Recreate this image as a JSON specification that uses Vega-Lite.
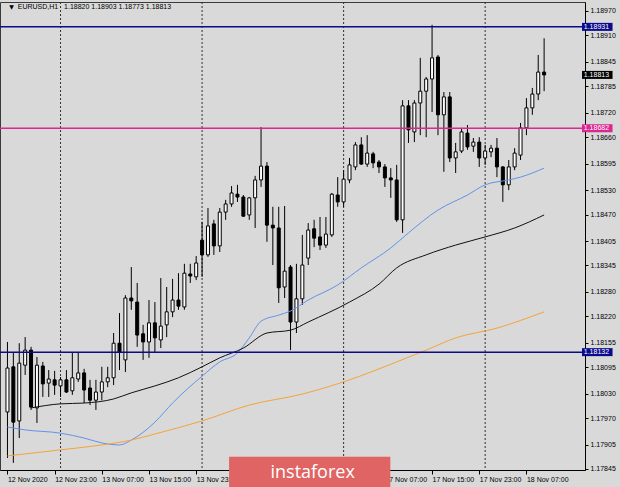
{
  "$schema": "https://vega.github.io/schema/vega-lite/v6.json",
  "width": 585,
  "height": 468,
  "autosize": "none",
  "padding": {"left": 0, "top": 2, "right": 35, "bottom": 17},
  "background": "#d9d9d9",
  "config": {
    "view": {"fill": "#d9d9d9", "stroke": "#3a3a3a", "strokeWidth": 1},
    "font": "Liberation Sans",
    "axis": {"labelFont": "Liberation Sans", "labelFontSize": 7, "labelColor": "#000000", "tickColor": "#000000", "domainColor": "#000000", "grid": false, "title": null, "labelOverlap": false, "labelFlush": false}
  },
  "datasets": {
    "candles": [
      {"k":0,"o":1.17985,"h":1.18157,"l":1.17872,"c":1.18093},
      {"k":1,"o":1.18096,"h":1.18132,"l":1.17860,"c":1.17960},
      {"k":2,"o":1.17963,"h":1.18154,"l":1.17921,"c":1.18105},
      {"k":3,"o":1.18100,"h":1.18169,"l":1.18076,"c":1.18137},
      {"k":4,"o":1.18137,"h":1.18145,"l":1.17990,"c":1.17997},
      {"k":5,"o":1.17995,"h":1.18120,"l":1.17958,"c":1.18100},
      {"k":6,"o":1.18098,"h":1.18108,"l":1.18022,"c":1.18054},
      {"k":7,"o":1.18056,"h":1.18088,"l":1.18022,"c":1.18066},
      {"k":8,"o":1.18064,"h":1.18086,"l":1.18027,"c":1.18051},
      {"k":9,"o":1.18049,"h":1.18071,"l":1.18022,"c":1.18064},
      {"k":10,"o":1.18064,"h":1.18088,"l":1.18032,"c":1.18034},
      {"k":11,"o":1.18037,"h":1.18132,"l":1.18027,"c":1.18069},
      {"k":12,"o":1.18066,"h":1.18132,"l":1.18059,"c":1.18081},
      {"k":13,"o":1.18081,"h":1.18091,"l":1.18007,"c":1.18039},
      {"k":14,"o":1.18044,"h":1.18064,"l":1.18002,"c":1.18014},
      {"k":15,"o":1.18014,"h":1.18064,"l":1.17990,"c":1.18034},
      {"k":16,"o":1.18034,"h":1.18096,"l":1.18014,"c":1.18059},
      {"k":17,"o":1.18059,"h":1.18096,"l":1.18046,"c":1.18069},
      {"k":18,"o":1.18069,"h":1.18179,"l":1.18051,"c":1.18154},
      {"k":19,"o":1.18154,"h":1.18228,"l":1.18088,"c":1.18132},
      {"k":20,"o":1.18113,"h":1.18272,"l":1.18083,"c":1.18265},
      {"k":21,"o":1.18265,"h":1.18341,"l":1.18236,"c":1.18258},
      {"k":22,"o":1.18255,"h":1.18302,"l":1.18145,"c":1.18174},
      {"k":23,"o":1.18177,"h":1.18199,"l":1.18113,"c":1.18157},
      {"k":24,"o":1.18157,"h":1.18260,"l":1.18118,"c":1.18204},
      {"k":25,"o":1.18204,"h":1.18255,"l":1.18132,"c":1.18167},
      {"k":26,"o":1.18162,"h":1.18314,"l":1.18142,"c":1.18196},
      {"k":27,"o":1.18199,"h":1.18292,"l":1.18169,"c":1.18231},
      {"k":28,"o":1.18231,"h":1.18312,"l":1.18218,"c":1.18260},
      {"k":29,"o":1.18260,"h":1.18326,"l":1.18236,"c":1.18245},
      {"k":30,"o":1.18243,"h":1.18349,"l":1.18236,"c":1.18326},
      {"k":31,"o":1.18324,"h":1.18349,"l":1.18302,"c":1.18319},
      {"k":32,"o":1.18317,"h":1.18368,"l":1.18309,"c":1.18351},
      {"k":33,"o":1.18407,"h":1.18452,"l":1.18317,"c":1.18371},
      {"k":34,"o":1.18371,"h":1.18486,"l":1.18366,"c":1.18442},
      {"k":35,"o":1.18447,"h":1.18457,"l":1.18371,"c":1.18393},
      {"k":36,"o":1.18393,"h":1.18486,"l":1.18378,"c":1.18476},
      {"k":37,"o":1.18476,"h":1.18506,"l":1.18457,"c":1.18496},
      {"k":38,"o":1.18496,"h":1.18540,"l":1.18489,"c":1.18523},
      {"k":39,"o":1.18520,"h":1.18543,"l":1.18501,"c":1.18513},
      {"k":40,"o":1.18513,"h":1.18518,"l":1.18464,"c":1.18466},
      {"k":41,"o":1.18469,"h":1.18513,"l":1.18457,"c":1.18511},
      {"k":42,"o":1.18511,"h":1.18565,"l":1.18437,"c":1.18555},
      {"k":43,"o":1.18555,"h":1.18685,"l":1.18538,"c":1.18589},
      {"k":44,"o":1.18589,"h":1.18599,"l":1.18403,"c":1.18444},
      {"k":45,"o":1.18444,"h":1.18489,"l":1.18346,"c":1.18437},
      {"k":46,"o":1.18437,"h":1.18489,"l":1.18253,"c":1.18290},
      {"k":47,"o":1.18292,"h":1.18491,"l":1.18265,"c":1.18331},
      {"k":48,"o":1.18341,"h":1.18346,"l":1.18137,"c":1.18206},
      {"k":49,"o":1.18206,"h":1.18349,"l":1.18179,"c":1.18263},
      {"k":50,"o":1.18263,"h":1.18420,"l":1.18248,"c":1.18346},
      {"k":51,"o":1.18363,"h":1.18449,"l":1.18346,"c":1.18432},
      {"k":52,"o":1.18435,"h":1.18457,"l":1.18390,"c":1.18412},
      {"k":53,"o":1.18415,"h":1.18464,"l":1.18383,"c":1.18395},
      {"k":54,"o":1.18395,"h":1.18464,"l":1.18388,"c":1.18422},
      {"k":55,"o":1.18420,"h":1.18523,"l":1.18415,"c":1.18520},
      {"k":56,"o":1.18518,"h":1.18562,"l":1.18489,"c":1.18501},
      {"k":57,"o":1.18501,"h":1.18579,"l":1.18489,"c":1.18557},
      {"k":58,"o":1.18555,"h":1.18609,"l":1.18547,"c":1.18592},
      {"k":59,"o":1.18587,"h":1.18648,"l":1.18579,"c":1.18641},
      {"k":60,"o":1.18641,"h":1.18660,"l":1.18592,"c":1.18594},
      {"k":61,"o":1.18594,"h":1.18665,"l":1.18587,"c":1.18621},
      {"k":62,"o":1.18619,"h":1.18624,"l":1.18584,"c":1.18597},
      {"k":63,"o":1.18599,"h":1.18604,"l":1.18572,"c":1.18587},
      {"k":64,"o":1.18587,"h":1.18594,"l":1.18538,"c":1.18560},
      {"k":65,"o":1.18560,"h":1.18584,"l":1.18511,"c":1.18555},
      {"k":66,"o":1.18555,"h":1.18592,"l":1.18452,"c":1.18457},
      {"k":67,"o":1.18457,"h":1.18751,"l":1.18425,"c":1.18737},
      {"k":68,"o":1.18737,"h":1.18751,"l":1.18646,"c":1.18678},
      {"k":69,"o":1.18673,"h":1.18751,"l":1.18648,"c":1.18744},
      {"k":70,"o":1.18744,"h":1.18855,"l":1.18665,"c":1.18773},
      {"k":71,"o":1.18773,"h":1.18808,"l":1.18660,"c":1.18803},
      {"k":72,"o":1.18803,"h":1.18936,"l":1.18722,"c":1.18855},
      {"k":73,"o":1.18857,"h":1.18862,"l":1.18665,"c":1.18715},
      {"k":74,"o":1.18715,"h":1.18771,"l":1.18575,"c":1.18759},
      {"k":75,"o":1.18759,"h":1.18771,"l":1.18599,"c":1.18609},
      {"k":76,"o":1.18609,"h":1.18646,"l":1.18572,"c":1.18624},
      {"k":77,"o":1.18626,"h":1.18683,"l":1.18621,"c":1.18673},
      {"k":78,"o":1.18670,"h":1.18690,"l":1.18629,"c":1.18636},
      {"k":79,"o":1.18638,"h":1.18658,"l":1.18624,"c":1.18648},
      {"k":80,"o":1.18648,"h":1.18660,"l":1.18587,"c":1.18609},
      {"k":81,"o":1.18609,"h":1.18641,"l":1.18592,"c":1.18626},
      {"k":82,"o":1.18624,"h":1.18641,"l":1.18611,"c":1.18633},
      {"k":83,"o":1.18633,"h":1.18658,"l":1.18562,"c":1.18587},
      {"k":84,"o":1.18587,"h":1.18589,"l":1.18501,"c":1.18543},
      {"k":85,"o":1.18543,"h":1.18604,"l":1.18530,"c":1.18587},
      {"k":86,"o":1.18587,"h":1.18633,"l":1.18579,"c":1.18621},
      {"k":87,"o":1.18616,"h":1.18695,"l":1.18604,"c":1.18683},
      {"k":88,"o":1.18683,"h":1.18756,"l":1.18665,"c":1.18732},
      {"k":89,"o":1.18732,"h":1.18781,"l":1.18715,"c":1.18766},
      {"k":90,"o":1.18766,"h":1.18862,"l":1.18751,"c":1.18820},
      {"k":91,"o":1.18820,"h":1.18903,"l":1.18773,"c":1.18813}
    ],
    "ma": [
      {"ma":"fast","k":0,"v":1.17948},{"ma":"fast","k":3,"v":1.17941},{"ma":"fast","k":9,"v":1.17933},{"ma":"fast","k":13,"v":1.17921},
      {"ma":"fast","k":16,"v":1.17909},{"ma":"fast","k":19,"v":1.17904},{"ma":"fast","k":21,"v":1.17916},{"ma":"fast","k":25,"v":1.17960},
      {"ma":"fast","k":28,"v":1.18007},{"ma":"fast","k":33,"v":1.18073},{"ma":"fast","k":36,"v":1.18108},{"ma":"fast","k":39,"v":1.18130},
      {"ma":"fast","k":41,"v":1.18167},{"ma":"fast","k":43,"v":1.18208},{"ma":"fast","k":46,"v":1.18223},{"ma":"fast","k":48,"v":1.18233},
      {"ma":"fast","k":51,"v":1.18260},{"ma":"fast","k":56,"v":1.18297},{"ma":"fast","k":60,"v":1.18339},{"ma":"fast","k":65,"v":1.18388},
      {"ma":"fast","k":68,"v":1.18425},{"ma":"fast","k":73,"v":1.18481},{"ma":"fast","k":78,"v":1.18518},{"ma":"fast","k":81,"v":1.18543},
      {"ma":"fast","k":85,"v":1.18555},{"ma":"fast","k":87,"v":1.18562},{"ma":"fast","k":91,"v":1.18584},
      {"ma":"mid","k":4,"v":1.17995},{"ma":"mid","k":9,"v":1.18005},{"ma":"mid","k":13,"v":1.18007},{"ma":"mid","k":18,"v":1.18017},
      {"ma":"mid","k":21,"v":1.18032},{"ma":"mid","k":25,"v":1.18049},{"ma":"mid","k":29,"v":1.18069},{"ma":"mid","k":33,"v":1.18096},
      {"ma":"mid","k":36,"v":1.18118},{"ma":"mid","k":40,"v":1.18142},{"ma":"mid","k":44,"v":1.18179},{"ma":"mid","k":48,"v":1.18186},
      {"ma":"mid","k":51,"v":1.18206},{"ma":"mid","k":58,"v":1.18255},{"ma":"mid","k":63,"v":1.18299},{"ma":"mid","k":66,"v":1.18339},
      {"ma":"mid","k":71,"v":1.18371},{"ma":"mid","k":76,"v":1.18395},{"ma":"mid","k":81,"v":1.18415},{"ma":"mid","k":86,"v":1.18437},
      {"ma":"mid","k":91,"v":1.18469},
      {"ma":"slow","k":0,"v":1.17877},{"ma":"slow","k":9,"v":1.17892},{"ma":"slow","k":16,"v":1.17904},{"ma":"slow","k":21,"v":1.17916},
      {"ma":"slow","k":25,"v":1.17931},{"ma":"slow","k":33,"v":1.17963},{"ma":"slow","k":41,"v":1.18002},{"ma":"slow","k":50,"v":1.18029},
      {"ma":"slow","k":58,"v":1.18064},{"ma":"slow","k":66,"v":1.18108},{"ma":"slow","k":71,"v":1.18137},{"ma":"slow","k":76,"v":1.18167},
      {"ma":"slow","k":83,"v":1.18191},{"ma":"slow","k":91,"v":1.18231}
    ],
    "levels": [
      {"name":"upper","price":1.18931},
      {"name":"middle","price":1.18682},
      {"name":"lower","price":1.18132},
      {"name":"bid","price":1.18813}
    ],
    "days": [{"k":9,"day":"13 Nov"},{"k":33,"day":"16 Nov"},{"k":57,"day":"17 Nov"},{"k":81,"day":"18 Nov"}],
    "header": [{"symbol":"EURUSD,H1","ohlc":"1.18820 1.18903 1.18773 1.18813"}],
    "brand": [{"name":"instaforex"}]
  },
  "layer": [
    {
      "data": {"name": "days"},
      "mark": {"type": "rule", "color": "#303030", "strokeWidth": 1, "strokeDash": [2, 2]},
      "encoding": {
        "x": {"field": "k", "type": "quantitative", "scale": {"domain": [-0.4167, 97.0833], "nice": false, "zero": false}}
      }
    },
    {
      "data": {"name": "candles"},
      "mark": {"type": "rule", "color": "#000000", "strokeWidth": 1},
      "encoding": {
        "x": {"field": "k", "type": "quantitative", "scale": {"domain": [-0.4167, 97.0833], "nice": false, "zero": false},
          "axis": {"orient": "bottom", "values": [0, 8, 16, 24, 32, 64, 72, 80, 88], "tickCount": 40,
            "labelExpr": "['12 Nov 2020','12 Nov 23:00','13 Nov 07:00','13 Nov 15:00','13 Nov 23:00','16 Nov 07:00','16 Nov 15:00','16 Nov 23:00','17 Nov 07:00','17 Nov 15:00','17 Nov 23:00','18 Nov 07:00'][round(datum.value/8)]",
            "labelAlign": "left", "labelBaseline": "top", "labelPadding": 1, "tickSize": 4, "labelOverlap": false, "labelFlush": false, "labelBound": false}},
        "y": {"field": "l", "type": "quantitative", "scale": {"domain": [1.178425, 1.189921], "nice": false, "zero": false},
          "axis": {"orient": "right", "values": [1.17845, 1.17905, 1.1797, 1.1803, 1.18095, 1.18155, 1.1822, 1.1828, 1.18345, 1.18405, 1.1847, 1.1853, 1.18595, 1.1866, 1.1872, 1.18785, 1.18845, 1.1891, 1.1897], "tickCount": 40,
            "format": ".5f", "tickSize": 3, "labelPadding": 2, "labelOverlap": false, "labelFlush": false, "labelBound": false, "labelBaseline": "middle"}},
        "y2": {"field": "h"}
      }
    },
    {
      "data": {"name": "candles"},
      "mark": {"type": "bar", "orient": "vertical", "size": 3, "stroke": "#000000", "strokeWidth": 1},
      "encoding": {
        "x": {"field": "k", "type": "quantitative"},
        "y": {"field": "o", "type": "quantitative"},
        "y2": {"field": "c"},
        "fill": {"condition": {"test": "datum.c > datum.o", "value": "#ffffff"}, "value": "#000000"}
      }
    },
    {
      "data": {"name": "ma"},
      "mark": {"type": "line", "strokeWidth": 1, "interpolate": "monotone", "clip": true},
      "encoding": {
        "x": {"field": "k", "type": "quantitative"},
        "y": {"field": "v", "type": "quantitative"},
        "color": {"field": "ma", "type": "nominal", "scale": {"domain": ["fast", "mid", "slow"], "range": ["#6392ea", "#111111", "#f5a33a"]}, "legend": null},
        "detail": {"field": "ma"}
      }
    },
    {
      "data": {"name": "levels"},
      "transform": [{"filter": "datum.name != 'bid'"}],
      "mark": {"type": "rule", "strokeWidth": 1.5},
      "encoding": {
        "y": {"field": "price", "type": "quantitative"},
        "stroke": {"field": "name", "type": "nominal", "scale": {"domain": ["upper", "middle", "lower", "bid"], "range": ["#0a0a8c", "#d9288f", "#0a0a8c", "#000000"]}, "legend": null}
      }
    },
    {
      "data": {"name": "levels"},
      "mark": {"type": "rule", "strokeWidth": 8, "strokeCap": "butt", "clip": false},
      "encoding": {
        "x": {"datum": 97.42},
        "x2": {"datum": 102.6},
        "y": {"field": "price", "type": "quantitative"},
        "stroke": {"field": "name", "type": "nominal", "scale": {"domain": ["upper", "middle", "lower", "bid"], "range": ["#0a0a8c", "#d9288f", "#0a0a8c", "#000000"]}, "legend": null}
      }
    },
    {
      "data": {"name": "levels"},
      "mark": {"type": "text", "align": "left", "baseline": "middle", "fontSize": 7, "color": "#ffffff", "clip": false},
      "encoding": {
        "x": {"datum": 97.72},
        "y": {"field": "price", "type": "quantitative"},
        "text": {"field": "price", "type": "quantitative", "format": ".5f"}
      }
    },
    {
      "data": {"name": "header"},
      "mark": {"type": "text", "align": "left", "baseline": "middle", "fontSize": 6, "color": "#000000", "font": "DejaVu Sans"},
      "encoding": {
        "x": {"datum": 0.3},
        "y": {"datum": 1.1898},
        "text": {"value": "▼"}
      }
    },
    {
      "data": {"name": "header"},
      "mark": {"type": "text", "align": "left", "baseline": "middle", "fontSize": 7, "color": "#000000"},
      "encoding": {
        "x": {"datum": 1.75},
        "y": {"datum": 1.1898},
        "text": {"field": "symbol"}
      }
    },
    {
      "data": {"name": "header"},
      "mark": {"type": "text", "align": "left", "baseline": "middle", "fontSize": 7, "color": "#000000"},
      "encoding": {
        "x": {"datum": 9.6},
        "y": {"datum": 1.1898},
        "text": {"field": "ohlc"}
      }
    },
    {
      "data": {"name": "brand"},
      "mark": {"type": "rect", "color": "#e06464", "clip": false},
      "encoding": {
        "x": {"datum": 37.58},
        "x2": {"datum": 64.92},
        "y": {"datum": 1.17875},
        "y2": {"datum": 1.178}
      }
    },
    {
      "data": {"name": "brand"},
      "mark": {"type": "text", "align": "center", "baseline": "alphabetic", "fontSize": 18, "font": "Open Sans", "color": "#ffffff", "clip": false},
      "encoding": {
        "x": {"datum": 51.75},
        "y": {"datum": 1.17823},
        "text": {"field": "name"}
      }
    }
  ]
}
